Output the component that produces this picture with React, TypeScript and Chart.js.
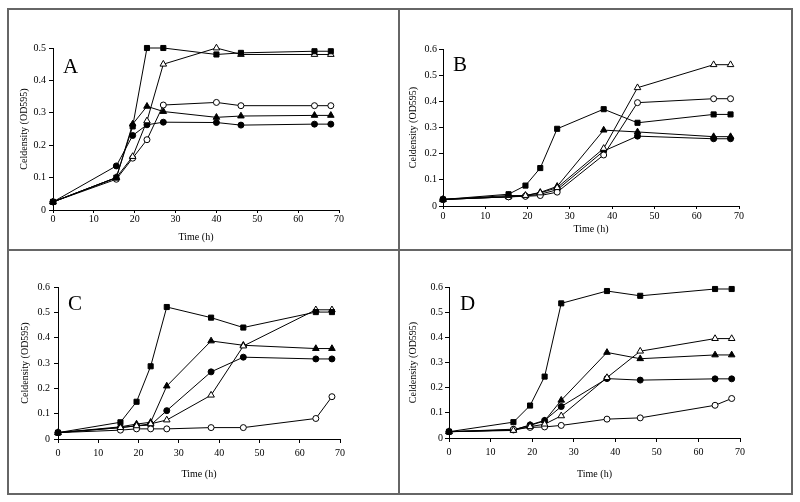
import React, { useEffect, useRef } from "react";
import { Chart, registerables } from "chart.js";

Chart.register(...registerables);

// ---------- data ----------
const TIMES = [0, 15.5, 19.5, 23, 27, 38, 46, 64, 68];
const TIMES_A = [0, 15.5, 19.5, 23, 27, 40, 46, 64, 68];
const X_TICKS = [0, 10, 20, 30, 40, 50, 60, 70];
const Y_TICKS_A = [0, 0.1, 0.2, 0.3, 0.4, 0.5];
const Y_TICKS_BCD = [0, 0.1, 0.2, 0.3, 0.4, 0.5, 0.6];
const X_TITLE = "Time (h)";
const Y_TITLE = "Celdensity (OD595)";
const PANEL_LETTERS = ["A", "B", "C", "D"];

// panel A
const A_FILLED_SQUARE = [0.025, 0.1, 0.258, 0.5, 0.5, 0.48, 0.485, 0.49, 0.49];
const A_OPEN_TRIANGLE = [0.025, 0.1, 0.165, 0.275, 0.45, 0.5, 0.48, 0.48, 0.48];
const A_OPEN_CIRCLE = [0.025, 0.095, 0.16, 0.217, 0.324, 0.332, 0.322, 0.322, 0.322];
const A_FILLED_TRIANGLE = [0.025, 0.1, 0.265, 0.32, 0.304, 0.286, 0.29, 0.292, 0.292];
const A_FILLED_CIRCLE = [0.025, 0.136, 0.23, 0.263, 0.271, 0.27, 0.262, 0.265, 0.265];

// panel B
const B_FILLED_SQUARE = [0.025, 0.045, 0.078, 0.145, 0.295, 0.37, 0.318, 0.35, 0.35];
const B_OPEN_TRIANGLE = [0.025, 0.04, 0.04, 0.05, 0.07, 0.22, 0.452, 0.54, 0.54];
const B_OPEN_CIRCLE = [0.025, 0.035, 0.037, 0.04, 0.053, 0.195, 0.395, 0.41, 0.41];
const B_FILLED_TRIANGLE = [0.025, 0.035, 0.04, 0.052, 0.075, 0.29, 0.283, 0.265, 0.265];
const B_FILLED_CIRCLE = [0.025, 0.035, 0.038, 0.045, 0.062, 0.21, 0.267, 0.257, 0.257];

// panel C
const C_FILLED_SQUARE = [0.025, 0.066, 0.147, 0.287, 0.521, 0.479, 0.44, 0.501, 0.501];
const C_OPEN_TRIANGLE = [0.025, 0.045, 0.052, 0.06, 0.075, 0.173, 0.367, 0.51, 0.51];
const C_OPEN_CIRCLE = [0.025, 0.035, 0.04, 0.04, 0.04, 0.045, 0.045, 0.081, 0.167];
const C_FILLED_TRIANGLE = [0.025, 0.048, 0.059, 0.066, 0.209, 0.387, 0.37, 0.357, 0.357];
const C_FILLED_CIRCLE = [0.025, 0.045, 0.052, 0.055, 0.112, 0.265, 0.323, 0.316, 0.316];

// panel D
const D_FILLED_SQUARE = [0.025, 0.063, 0.129, 0.244, 0.535, 0.584, 0.565, 0.592, 0.592];
const D_OPEN_TRIANGLE = [0.025, 0.03, 0.045, 0.055, 0.088, 0.24, 0.345, 0.395, 0.395];
const D_OPEN_CIRCLE = [0.025, 0.035, 0.042, 0.044, 0.05, 0.075, 0.08, 0.13, 0.157];
const D_FILLED_TRIANGLE = [0.025, 0.032, 0.05, 0.068, 0.15, 0.34, 0.315, 0.33, 0.33];
const D_FILLED_CIRCLE = [0.025, 0.032, 0.052, 0.07, 0.125, 0.236, 0.23, 0.235, 0.235];

// ---------- styling / layout ----------
type Marker = { style: string; filled: boolean; radius: number };
const MARKERS: Record<string, Marker> = {
  filledSquare: { style: "rect", filled: true, radius: 3.6 },
  openTriangle: { style: "triangle", filled: false, radius: 3.8 },
  openCircle: { style: "circle", filled: false, radius: 3 },
  filledTriangle: { style: "triangle", filled: true, radius: 3.8 },
  filledCircle: { style: "circle", filled: true, radius: 3 },
};

const FONT = '"Liberation Serif", "Times New Roman", serif';

type Geom = {
  L: number; R: number; T: number; B: number;
  yw: number; xh: number; xtl: number; xpad: number; ytl: number; ypad: number;
  dx: number; dy: number;
};

const PANELS = [
  {
    letter: PANEL_LETTERS[0], yMax: 0.5, yTicks: Y_TICKS_A, times: TIMES_A,
    series: [
      ["filledSquare", A_FILLED_SQUARE], ["openTriangle", A_OPEN_TRIANGLE],
      ["openCircle", A_OPEN_CIRCLE], ["filledTriangle", A_FILLED_TRIANGLE],
      ["filledCircle", A_FILLED_CIRCLE],
    ],
    g: { L: 53, R: 339, T: 48, B: 210, yw: 35, xh: 33, xtl: 3, xpad: 0, ytl: 4, ypad: 3, dx: 10, dy: 25 },
  },
  {
    letter: PANEL_LETTERS[1], yMax: 0.6, yTicks: Y_TICKS_BCD, times: TIMES,
    series: [
      ["filledSquare", B_FILLED_SQUARE], ["openTriangle", B_OPEN_TRIANGLE],
      ["openCircle", B_OPEN_CIRCLE], ["filledTriangle", B_FILLED_TRIANGLE],
      ["filledCircle", B_FILLED_CIRCLE],
    ],
    g: { L: 443, R: 739, T: 49, B: 206, yw: 36, xh: 29, xtl: 3, xpad: 1, ytl: 4, ypad: 2, dx: 10, dy: 22 },
  },
  {
    letter: PANEL_LETTERS[2], yMax: 0.6, yTicks: Y_TICKS_BCD, times: TIMES,
    series: [
      ["filledSquare", C_FILLED_SQUARE], ["openTriangle", C_OPEN_TRIANGLE],
      ["openCircle", C_OPEN_CIRCLE], ["filledTriangle", C_FILLED_TRIANGLE],
      ["filledCircle", C_FILLED_CIRCLE],
    ],
    g: { L: 58, R: 340, T: 287, B: 439, yw: 39, xh: 41, xtl: 4, xpad: 4, ytl: 4, ypad: 4, dx: 10, dy: 23 },
  },
  {
    letter: PANEL_LETTERS[3], yMax: 0.6, yTicks: Y_TICKS_BCD, times: TIMES,
    series: [
      ["filledSquare", D_FILLED_SQUARE], ["openTriangle", D_OPEN_TRIANGLE],
      ["openCircle", D_OPEN_CIRCLE], ["filledTriangle", D_FILLED_TRIANGLE],
      ["filledCircle", D_FILLED_CIRCLE],
    ],
    g: { L: 449, R: 740, T: 287, B: 438, yw: 42, xh: 42, xtl: 4, xpad: 4, ytl: 4, ypad: 2, dx: 11, dy: 23 },
  },
];

const letterPlugin = {
  id: "panelLetter",
  afterDraw(chart: any, _args: any, opts: any) {
    const ctx = chart.ctx;
    const a = chart.chartArea;
    ctx.save();
    ctx.font = `21px ${FONT}`;
    ctx.fillStyle = "#000";
    ctx.textBaseline = "alphabetic";
    ctx.textAlign = "left";
    ctx.fillText(opts.text, a.left + opts.dx, a.top + opts.dy);
    ctx.restore();
  },
};

const fmt = (v: number) => String(Number(v.toFixed(1)));

function Panel({ panel }: { panel: any }) {
  const ref = useRef<HTMLCanvasElement | null>(null);
  useEffect(() => {
    const g: Geom = panel.g;
    const tickFont = { family: FONT, size: 10 };
    const times: number[] = panel.times;
    const datasets = panel.series.map(([key, values]: [string, number[]]) => {
      const m = MARKERS[key];
      return {
        label: key,
        data: times.map((t, i) => ({ x: t, y: values[i] })),
        borderColor: "#000",
        borderWidth: 1,
        tension: 0,
        fill: false,
        clip: false,
        pointStyle: m.style,
        pointRadius: m.radius,
        pointBorderWidth: 1,
        pointBorderColor: "#000",
        pointBackgroundColor: m.filled ? "#000" : "#fff",
      };
    });
    const chart = new Chart(ref.current as HTMLCanvasElement, {
      type: "line",
      data: { datasets },
      options: {
        responsive: false,
        animation: false,
        devicePixelRatio: 1,
        events: [],
        layout: {
          padding: {
            left: g.L - g.yw,
            right: 800 - g.R,
            top: g.T,
            bottom: 502 - g.B - g.xh,
          },
        },
        plugins: {
          legend: { display: false },
          tooltip: { enabled: false },
          panelLetter: { text: panel.letter, dx: g.dx, dy: g.dy },
        } as any,
        scales: {
          x: {
            type: "linear",
            min: 0,
            max: 70,
            afterBuildTicks: (s: any) => {
              s.ticks = X_TICKS.map((v) => ({ value: v }));
            },
            afterFit: (s: any) => {
              s.height = g.xh;
            },
            ticks: {
              font: tickFont,
              color: "#000",
              padding: g.xpad,
              maxRotation: 0,
              autoSkip: false,
              callback: (v: any) => fmt(Number(v)),
            },
            grid: {
              drawOnChartArea: false,
              drawTicks: true,
              tickLength: g.xtl,
              color: "#000",
            },
            border: { display: true, color: "#000", width: 1 },
            title: {
              display: true,
              text: X_TITLE,
              font: { family: FONT, size: 10 },
              color: "#000",
              padding: { top: 0, bottom: 0 },
            },
          },
          y: {
            type: "linear",
            min: 0,
            max: panel.yMax,
            afterBuildTicks: (s: any) => {
              s.ticks = panel.yTicks.map((v: number) => ({ value: v }));
            },
            afterFit: (s: any) => {
              s.width = g.yw;
            },
            ticks: {
              font: tickFont,
              color: "#000",
              padding: g.ypad,
              autoSkip: false,
              callback: (v: any) => fmt(Number(v)),
            },
            grid: {
              drawOnChartArea: false,
              drawTicks: true,
              tickLength: g.ytl,
              color: "#000",
            },
            border: { display: true, color: "#000", width: 1 },
            title: {
              display: true,
              text: Y_TITLE,
              font: { family: FONT, size: 10 },
              color: "#000",
              padding: { top: 0, bottom: 0 },
            },
          },
        },
      } as any,
      plugins: [letterPlugin],
    });
    return () => chart.destroy();
  }, [panel]);
  return (
    <canvas
      ref={ref}
      width={800}
      height={502}
      style={{ position: "absolute", left: 0, top: 0, width: 800, height: 502 }}
    />
  );
}

export default function App() {
  const line = "#666";
  return (
    <div
      style={{
        position: "absolute",
        left: 0,
        top: 0,
        width: 800,
        height: 502,
        background: "#fff",
        overflow: "hidden",
      }}
    >
      <div
        style={{
          position: "absolute",
          left: 7,
          top: 8,
          width: 782,
          height: 483,
          border: `2px solid ${line}`,
        }}
      />
      <div style={{ position: "absolute", left: 398, top: 8, width: 2, height: 485, background: line }} />
      <div style={{ position: "absolute", left: 7, top: 249, width: 784, height: 2, background: line }} />
      {PANELS.map((p) => (
        <Panel key={p.letter} panel={p} />
      ))}
    </div>
  );
}
